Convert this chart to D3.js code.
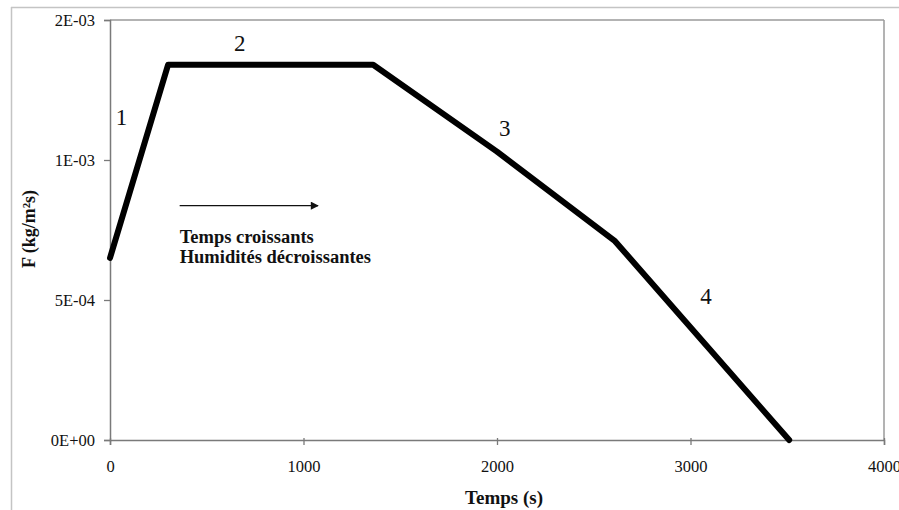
<!DOCTYPE html>
<html><head><meta charset="utf-8">
<script src="https://cdn.jsdelivr.net/npm/d3@7"></script>
<style>body{margin:0;background:#fff}svg{display:block}</style>
</head><body><svg id="c" width="899" height="510"></svg>
<script>
// Data
const times = [0, 300, 1360, 2000, 2610, 3510];
const flux = [6.5e-4, 1.34e-3, 1.34e-3, 1.03e-3, 7.1e-4, 0];
const xTicks = [0, 1000, 2000, 3000, 4000];
const yTicks = [0, 5e-4, 1e-3, 1.5e-3];
const yTickLabels = ["0E+00", "5E-04", "1E-03", "2E-03"];
const segLabels = ["1", "2", "3", "4"];
const segLabelPos = [[60, 1.125e-3], [670, 1.39e-3], [2040, 1.085e-3], [3080, 4.85e-4]];
const noteLines = ["Temps croissants", "Humidités décroissantes"];

const FONT = "'Liberation Serif','Times New Roman',serif";
const svg = d3.select("#c");
const m = {l: 110, r: 884, t: 20, b: 440};
const x = d3.scaleLinear().domain([0, 4000]).range([m.l, m.r]);
const y = d3.scaleLinear().domain([0, 1.5e-3]).range([m.b, m.t]);

// outer frame
svg.append("line").attr("x1", 11).attr("x2", 899).attr("y1", 7.5).attr("y2", 7.5).attr("stroke", "#c4c4c4").attr("stroke-width", 1.5);
svg.append("line").attr("x1", 11.5).attr("x2", 11.5).attr("y1", 7).attr("y2", 510).attr("stroke", "#c4c4c4").attr("stroke-width", 1.5);

// plot frame top/right
svg.append("line").attr("x1", m.l).attr("x2", m.r).attr("y1", m.t).attr("y2", m.t).attr("stroke", "#9a9a9a").attr("stroke-width", 1.5);
svg.append("line").attr("x1", m.r).attr("x2", m.r).attr("y1", m.t).attr("y2", m.b).attr("stroke", "#9a9a9a").attr("stroke-width", 1.5);

// axes
const xAxis = d3.axisBottom(x).tickValues(xTicks).tickFormat(d3.format("d")).tickSize(5).tickPadding(15);
const gx = svg.append("g").attr("transform", `translate(0,${m.b})`).call(xAxis);
const yAxis = d3.axisLeft(y).tickValues(yTicks).tickFormat((d, i) => yTickLabels[i]).tickSize(6).tickPadding(9);
const gy = svg.append("g").attr("transform", `translate(${m.l},0)`).call(yAxis);
[gx, gy].forEach(g => {
  g.attr("font-family", null).attr("font-size", null);
  g.select(".domain").attr("stroke", "#7a7a7a").attr("stroke-width", 1.5);
  g.selectAll(".tick line").attr("stroke", "#7a7a7a").attr("stroke-width", 1.3);
  g.selectAll(".tick text").style("font-family", FONT).style("font-size", "16.5px").attr("fill", "#111");
});
gx.selectAll(".tick line").attr("y1", -2);

// line
const line = d3.line().x((d, i) => x(times[i])).y(d => y(d));
svg.append("path").datum(flux).attr("d", line).attr("fill", "none").attr("stroke", "#000")
  .attr("stroke-width", 6).attr("stroke-linejoin", "round").attr("stroke-linecap", "round");

// segment labels
svg.selectAll(".seg").data(segLabels).enter().append("text")
  .attr("x", (d, i) => x(segLabelPos[i][0])).attr("y", (d, i) => y(segLabelPos[i][1]))
  .attr("text-anchor", "middle").style("font-family", FONT).style("font-size", "23px").attr("fill", "#111").text(d => d);

// arrow + note
const defs = svg.append("defs");
defs.append("marker").attr("id", "ah").attr("viewBox", "0 0 10 10").attr("refX", 9).attr("refY", 5)
  .attr("markerWidth", 10).attr("markerHeight", 8).attr("markerUnits", "userSpaceOnUse").attr("orient", "auto")
  .append("path").attr("d", "M0,0 L10,5 L0,10 z").attr("fill", "#111");
svg.append("line").attr("x1", x(360)).attr("x2", x(1075)).attr("y1", y(8.37e-4)).attr("y2", y(8.37e-4))
  .attr("stroke", "#111").attr("stroke-width", 1.3).attr("marker-end", "url(#ah)");
svg.selectAll(".note").data(noteLines).enter().append("text")
  .attr("x", x(360)).attr("y", (d, i) => 243 + i * 20)
  .style("font-family", FONT).style("font-size", "18.5px").style("font-weight", "bold").attr("fill", "#111").text(d => d);

// axis titles
svg.append("text").attr("x", (m.l + m.r) / 2 + 7).attr("y", 504).attr("text-anchor", "middle")
  .style("font-family", FONT).style("font-size", "19px").style("font-weight", "bold").attr("fill", "#111").text("Temps (s)");
svg.append("text").attr("transform", "translate(35,229) rotate(-90)").attr("text-anchor", "middle")
  .style("font-family", FONT).style("font-size", "18px").style("font-weight", "bold").attr("fill", "#111").text("F (kg/m²s)");
</script></body></html>
